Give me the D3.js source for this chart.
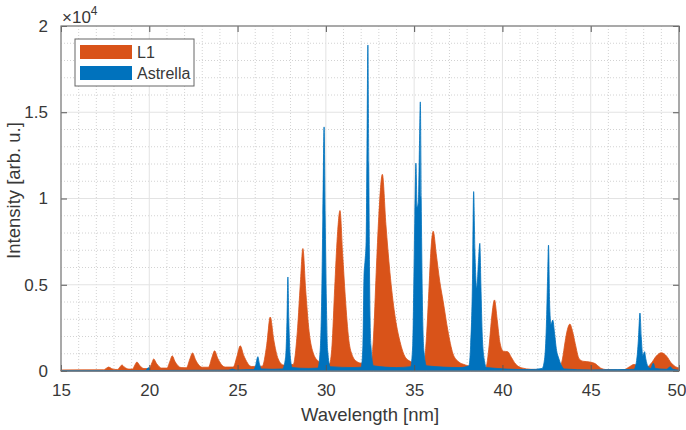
<!DOCTYPE html>
<html>
<head>
<meta charset="utf-8">
<script src="https://cdn.jsdelivr.net/npm/d3@7"></script>
<style>
  html, body { margin: 0; padding: 0; background: #fff; }
  svg { display: block; }
  text { font-family: "Liberation Sans", Arial, Helvetica, sans-serif; fill: #383838; }
</style>
</head>
<body>
<svg id="chart" width="686" height="430"></svg>
<script>
// Emission spectra: [wavelength (nm), intensity (arb. u.)]
const seriesNames = ["L1", "Astrella"];
const seriesColors = ["#D95319", "#0072BD"];

const l1Spectrum = [
  [15, 60], [17.4, 70], [17.6, 180], [17.7, 230], [17.85, 150], [18.05, 90],
  [18.2, 90], [18.35, 250], [18.45, 350], [18.6, 220], [18.85, 110],
  [19.05, 110], [19.2, 380], [19.3, 520], [19.45, 330], [19.7, 140],
  [20.0, 140], [20.15, 480], [20.25, 700], [20.4, 450], [20.7, 170],
  [21.0, 170], [21.18, 600], [21.3, 880], [21.45, 560], [21.8, 200],
  [22.1, 190], [22.3, 700], [22.45, 1050], [22.62, 650], [23.0, 220],
  [23.35, 220], [23.55, 800], [23.7, 1170], [23.87, 750], [24.3, 230],
  [24.75, 230], [24.98, 900], [25.15, 1460], [25.35, 900], [25.8, 260],
  [26.4, 280], [26.65, 1500], [26.85, 3130], [27.05, 1800], [27.3, 700], [27.6, 350],
  [28.15, 380], [28.4, 2500], [28.55, 5000], [28.7, 7100], [28.85, 4800], [29.05, 2300],
  [29.3, 1000], [29.6, 550], [29.9, 420],
  [30.2, 400], [30.35, 1500], [30.5, 4800], [30.65, 7800], [30.8, 9300], [30.95, 6800],
  [31.1, 4300], [31.3, 1800], [31.5, 900], [31.75, 550], [32.0, 450],
  [32.55, 450], [32.7, 2000], [32.85, 5700], [33.0, 9000], [33.2, 11400], [33.4, 8500],
  [33.63, 5700], [33.9, 3300], [34.2, 1700], [34.5, 800], [34.8, 550], [35.1, 450],
  [35.55, 450], [35.7, 2000], [35.85, 5000], [35.95, 7000], [36.08, 8100], [36.25, 6800],
  [36.45, 5200], [36.65, 4000], [36.9, 2400], [37.2, 1000], [37.5, 550], [37.9, 350], [38.2, 250],
  [38.6, 180], [39.05, 170], [39.25, 1500], [39.4, 3200], [39.55, 4120], [39.7, 3000],
  [39.85, 1700], [40.05, 1150], [40.3, 1120], [40.5, 800], [40.75, 400], [41.1, 180],
  [41.6, 100], [42.1, 80],
  [42.8, 90], [43.2, 100], [43.4, 700], [43.55, 1700], [43.68, 2400], [43.82, 2720],
  [43.97, 2300], [44.12, 1600], [44.35, 700], [44.6, 560], [44.95, 520], [45.25, 430],
  [45.55, 180], [45.9, 80],
  [46.6, 60], [46.9, 80], [47.2, 250], [47.45, 380], [47.7, 320], [47.95, 250], [48.2, 250],
  [48.45, 480], [48.7, 850], [49.0, 1060], [49.3, 860], [49.55, 480], [49.8, 250], [50.0, 180]
];

const astrellaSpectrum = [
  [15, 20], [19.8, 30], [19.95, 200], [20.05, 30], [24.5, 50], [24.7, 110], [24.9, 60],
  [25.9, 80], [26.02, 300], [26.1, 700], [26.15, 830], [26.22, 500], [26.35, 120],
  [27.0, 100], [27.55, 120], [27.72, 800], [27.8, 3000], [27.85, 5450], [27.9, 3000],
  [27.98, 900], [28.1, 200],
  [29.0, 150], [29.55, 170], [29.68, 1200], [29.76, 4000], [29.83, 9000], [29.9, 14150],
  [29.96, 9000], [30.03, 4000], [30.1, 1200], [30.25, 250],
  [31.6, 200], [32.0, 220], [32.1, 1500], [32.16, 5500], [32.22, 6400], [32.28, 7500],
  [32.33, 13000], [32.38, 18900], [32.43, 12000], [32.48, 5000], [32.55, 1500], [32.7, 300],
  [34.0, 200], [34.8, 250], [34.92, 1500], [34.98, 5000], [35.04, 9000], [35.1, 12050],
  [35.17, 9500], [35.24, 9800], [35.3, 13000], [35.35, 15600], [35.4, 10000], [35.46, 4500],
  [35.55, 1200], [35.7, 300],
  [37.6, 200], [38.1, 300], [38.2, 1500], [38.3, 5000], [38.37, 10400], [38.44, 7000],
  [38.55, 4800], [38.65, 6500], [38.72, 7400], [38.78, 5000], [38.86, 2000], [38.98, 600], [39.1, 200],
  [41.5, 80], [42.25, 150], [42.4, 800], [42.5, 3000], [42.56, 5500], [42.61, 7300],
  [42.67, 4000], [42.75, 2700], [42.85, 2950], [42.95, 2200], [43.05, 1300], [43.2, 700],
  [43.35, 300], [43.5, 120],
  [45.0, 60], [46.5, 80], [47.2, 90], [47.45, 100], [47.6, 600], [47.7, 1800], [47.79, 3360],
  [47.86, 2000], [47.95, 900], [48.05, 1120], [48.12, 700], [48.25, 250], [48.4, 150],
  [48.55, 450], [48.65, 150], [49.3, 100], [49.5, 250], [49.65, 100], [50, 50]
];

const xTicks = [15, 20, 25, 30, 35, 40, 45, 50];
const yTicks = [0, 5000, 10000, 15000, 20000];
const yTickLabels = ["0", "0.5", "1", "1.5", "2"];
const xMinorStep = 1;
const yMinorStep = 1000;

// Layout
const margin = { left: 61, right: 7, top: 26, bottom: 59 };
const width = 686, height = 430;
const plotW = width - margin.left - margin.right;
const plotH = height - margin.top - margin.bottom;

const svg = d3.select("#chart");
const g = svg.append("g").attr("transform", `translate(${margin.left},${margin.top})`);

const x = d3.scaleLinear().domain([15, 50]).range([0, plotW]);
const y = d3.scaleLinear().domain([0, 20000]).range([plotH, 0]);

// Minor grid (dotted)
const xMinor = d3.range(15, 50 + 1e-9, xMinorStep).filter(v => !xTicks.includes(v));
const yMinor = d3.range(0, 20000 + 1e-9, yMinorStep).filter(v => !yTicks.includes(v));
g.append("g").selectAll("line").data(xMinor).join("line")
  .attr("x1", d => x(d)).attr("x2", d => x(d)).attr("y1", 0).attr("y2", plotH)
  .attr("stroke", "#d2d2d2").attr("stroke-width", 1).attr("stroke-dasharray", "1,2");
g.append("g").selectAll("line").data(yMinor).join("line")
  .attr("y1", d => y(d)).attr("y2", d => y(d)).attr("x1", 0).attr("x2", plotW)
  .attr("stroke", "#d2d2d2").attr("stroke-width", 1).attr("stroke-dasharray", "1,2");

// Major grid (solid)
g.append("g").selectAll("line").data(xTicks).join("line")
  .attr("x1", d => x(d)).attr("x2", d => x(d)).attr("y1", 0).attr("y2", plotH)
  .attr("stroke", "#e3e3e3").attr("stroke-width", 1);
g.append("g").selectAll("line").data(yTicks).join("line")
  .attr("y1", d => y(d)).attr("y2", d => y(d)).attr("x1", 0).attr("x2", plotW)
  .attr("stroke", "#e3e3e3").attr("stroke-width", 1);

// Spectra as filled areas; Astrella drawn over L1
const area = d3.area()
  .x(d => x(d[0]))
  .y0(y(0))
  .y1(d => y(d[1]))
  .curve(d3.curveMonotoneX);

[l1Spectrum, astrellaSpectrum].forEach((data, i) => {
  g.append("path")
    .datum(data)
    .attr("d", area)
    .attr("fill", seriesColors[i])
    .attr("stroke", seriesColors[i])
    .attr("stroke-width", 0.8)
    .attr("stroke-linejoin", "round");
});

// Axes with inward ticks on all four sides
const tickLen = 6;
const axisColor = "#7a7a7a";
const fmt = (d) => yTickLabels[yTicks.indexOf(d)];

const axisBottomG = g.append("g").attr("transform", `translate(0,${plotH})`)
  .call(d3.axisBottom(x).tickValues(xTicks).tickSizeInner(-tickLen).tickSizeOuter(0).tickPadding(13));
const axisTopG = g.append("g")
  .call(d3.axisTop(x).tickValues(xTicks).tickSizeInner(-tickLen).tickSizeOuter(0).tickFormat(""));
const axisLeftG = g.append("g")
  .call(d3.axisLeft(y).tickValues(yTicks).tickSizeInner(-tickLen).tickSizeOuter(0).tickPadding(13).tickFormat(fmt));
const axisRightG = g.append("g").attr("transform", `translate(${plotW},0)`)
  .call(d3.axisRight(y).tickValues(yTicks).tickSizeInner(-tickLen).tickSizeOuter(0).tickFormat(""));

[axisBottomG, axisTopG, axisLeftG, axisRightG].forEach(a => {
  a.select(".domain").remove();
  a.selectAll(".tick line").attr("stroke", "#555").attr("stroke-width", 1);
  a.selectAll(".tick text").attr("font-size", 17).attr("fill", "#383838")
    .style("font-family", "'Liberation Sans', Arial, Helvetica, sans-serif");
});
// Keep the last x label inside the canvas
axisBottomG.selectAll(".tick text").filter(d => d === 50)
  .attr("text-anchor", "end").attr("x", width - margin.left - x(50));

// Box
g.append("rect").attr("x", 0).attr("y", 0).attr("width", plotW).attr("height", plotH)
  .attr("fill", "none").attr("stroke", axisColor).attr("stroke-width", 1.2);

// Exponent label
const expo = svg.append("text").attr("x", margin.left + 1).attr("y", 23).attr("font-size", 17);
expo.append("tspan").text("×10");
expo.append("tspan").attr("dy", -8).attr("font-size", 12).text("4");

// Axis titles
svg.append("text")
  .attr("x", margin.left + plotW / 2).attr("y", 421)
  .attr("text-anchor", "middle").attr("font-size", 18.5)
  .text("Wavelength [nm]");
svg.append("text")
  .attr("transform", `translate(20,${margin.top + plotH / 2 - 8}) rotate(-90)`)
  .attr("text-anchor", "middle").attr("font-size", 18.5)
  .text("Intensity [arb. u.]");

// Legend
const legend = svg.append("g").attr("transform", "translate(75,39)");
legend.append("rect").attr("width", 119).attr("height", 47)
  .attr("fill", "#fff").attr("stroke", "#666").attr("stroke-width", 1);
seriesNames.forEach((name, i) => {
  const row = legend.append("g").attr("transform", `translate(5,${6 + i * 21})`);
  row.append("rect").attr("width", 52).attr("height", 14).attr("fill", seriesColors[i]);
  row.append("text").attr("x", 57).attr("y", 13).attr("font-size", 16).text(name);
});
</script>
</body>
</html>
